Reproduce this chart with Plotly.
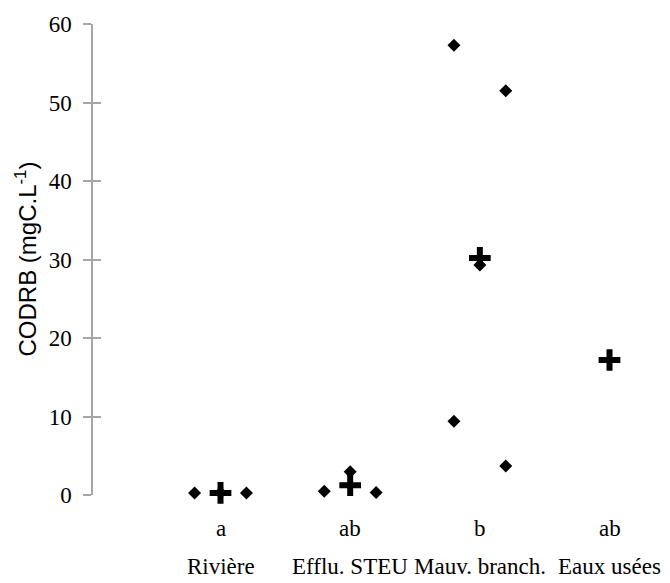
import plotly.graph_objects as go

# ---- data ----
categories = ["Rivière", "Efflu. STEU", "Mauv. branch.", "Eaux usées"]
letters = ["a", "ab", "b", "ab"]
means = [0.27, 1.24, 30.2, 17.2]

# individual samples: category index, horizontal jitter, value
sample_cat = [0, 0, 0, 1, 1, 1, 2, 2, 2, 2, 2]
sample_jitter = [-0.2, 0.0, 0.2, -0.2, 0.0, 0.2, -0.2, -0.2, 0.0, 0.2, 0.2]
sample_values = [0.25, 0.3, 0.25, 0.47, 2.95, 0.33, 57.3, 9.4, 29.3, 51.5, 3.7]

y_ticks = [0, 10, 20, 30, 40, 50, 60]
y_title = "CODRB (mgC.L<sup>-1</sup>)"

# ---- figure ----
serif = "Liberation Serif"
sans = "Liberation Sans"
axis_gray = "#a6a6a6"

cat_pos = [i + 1 for i in range(len(categories))]
sx = [cat_pos[c] + j for c, j in zip(sample_cat, sample_jitter)]

fig = go.Figure()
fig.add_trace(go.Scatter(
    x=cat_pos, y=means, mode="markers", cliponaxis=False,
    marker=dict(symbol="cross-thin", size=15.5, color="black",
                line=dict(color="black", width=6)),
    hoverinfo="skip", showlegend=False,
))
fig.add_trace(go.Scatter(
    x=sx, y=sample_values, mode="markers", cliponaxis=False,
    marker=dict(symbol="diamond", size=10, color="black", line=dict(width=0)),
    hoverinfo="skip", showlegend=False,
))
# helper trace so the second (inside-tick) y axis is drawn
fig.add_trace(go.Scatter(x=[None], y=[None], yaxis="y2", mode="markers",
                         hoverinfo="skip", showlegend=False))

for p, cat, let in zip(cat_pos, categories, letters):
    fig.add_annotation(x=p, xref="x", y=0, yref="paper", yanchor="middle",
                       yshift=-33, text=let, showarrow=False,
                       font=dict(family=serif, size=23, color="black"))
    fig.add_annotation(x=p, xref="x", y=0, yref="paper", yanchor="middle",
                       yshift=-71, text=cat, showarrow=False,
                       font=dict(family=serif, size=23, color="black"))

fig.add_annotation(x=0, xref="paper", y=0.5, yref="paper", xshift=-68,
                   xanchor="center", yanchor="middle", textangle=-90,
                   text=y_title, showarrow=False,
                   font=dict(family=sans, size=24, color="black"))

fig.update_layout(
    width=670, height=583,
    margin=dict(l=93, r=9, t=24, b=88),
    paper_bgcolor="white", plot_bgcolor="white",
    xaxis=dict(range=[0.0167, 4.397], showgrid=False, zeroline=False,
               showline=False, showticklabels=False, ticks=""),
    yaxis=dict(range=[0, 60], tickvals=y_ticks, showgrid=False, zeroline=False,
               showline=True, linecolor=axis_gray, linewidth=1.5,
               ticks="outside", ticklen=8, tickwidth=1.5, tickcolor=axis_gray,
               ticklabelstandoff=7,
               tickfont=dict(family=serif, size=23, color="black")),
    yaxis2=dict(range=[0, 60], tickvals=y_ticks, overlaying="y", side="left",
                anchor="x", showgrid=False, zeroline=False, showline=False,
                ticks="inside", ticklen=8, tickwidth=1.5, tickcolor=axis_gray,
                showticklabels=False),
)

fig.write_html("out.html")
